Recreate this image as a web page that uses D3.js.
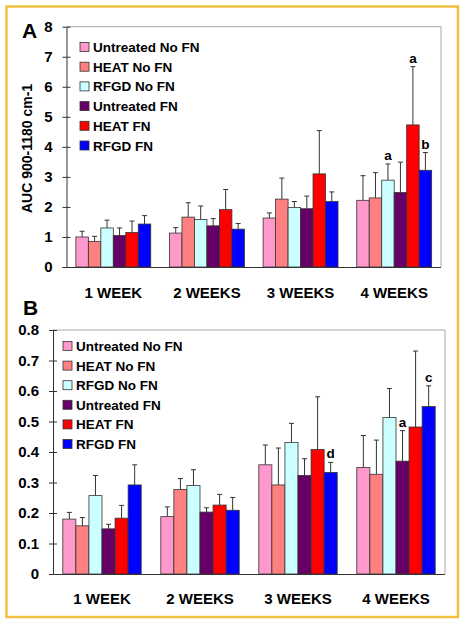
<!DOCTYPE html>
<html>
<head>
<meta charset="utf-8">
<script src="https://cdn.jsdelivr.net/npm/d3@7"></script>
<style>
  html, body { margin: 0; padding: 0; background: #ffffff; }
  svg { display: block; }
  text { font-family: "Liberation Sans", Arial, sans-serif; font-weight: bold; fill: #000; }
</style>
</head>
<body>
<svg id="chart" width="466" height="624"></svg>
<script>
// ---------- DATA ----------
const categories = ["1 WEEK", "2 WEEKS", "3 WEEKS", "4 WEEKS"];
const seriesNames = ["Untreated No FN", "HEAT No FN", "RFGD No FN", "Untreated FN", "HEAT FN", "RFGD FN"];
const seriesColors = ["#FF99CC", "#FF8080", "#CCFFFF", "#660066", "#FF0000", "#0000FF"];

// Panel A: AUC 900-1180 cm-1, rows = weeks, cols = series
const aucMeans = [
  [1.00, 0.85, 1.30, 1.05, 1.15, 1.43],
  [1.13, 1.66, 1.58, 1.37, 1.91, 1.26],
  [1.63, 2.26, 1.98, 1.94, 3.10, 2.18],
  [2.22, 2.30, 2.89, 2.48, 4.73, 3.22]
];
const aucErrors = [
  [0.19, 0.17, 0.26, 0.25, 0.38, 0.28],
  [0.18, 0.48, 0.45, 0.24, 0.67, 0.19],
  [0.17, 0.70, 0.20, 0.42, 1.44, 0.32],
  [0.82, 0.84, 0.54, 1.01, 1.94, 0.59]
];
const aucTicks = [0, 1, 2, 3, 4, 5, 6, 7, 8];
const aucMarks = [[3, 2, "a"], [3, 4, "a"], [3, 5, "b"]];

// Panel B
const bMeans = [
  [0.180, 0.158, 0.257, 0.148, 0.183, 0.292],
  [0.188, 0.277, 0.290, 0.203, 0.226, 0.209],
  [0.358, 0.292, 0.431, 0.323, 0.408, 0.333],
  [0.349, 0.327, 0.513, 0.370, 0.482, 0.549]
];
const bErrors = [
  [0.022, 0.027, 0.066, 0.015, 0.042, 0.066],
  [0.032, 0.036, 0.052, 0.014, 0.035, 0.042],
  [0.065, 0.121, 0.063, 0.055, 0.173, 0.033],
  [0.105, 0.112, 0.095, 0.100, 0.249, 0.068]
];
const bTicks = [0, 0.1, 0.2, 0.3, 0.4, 0.5, 0.6, 0.7, 0.8];
const bMarks = [[2, 5, "d"], [3, 3, "a"], [3, 5, "c"]];

// ---------- DRAW ----------
const svg = d3.select("#chart");

svg.append("rect")
  .attr("x", 6.5).attr("y", 6.5).attr("width", 451.5).attr("height", 610.5)
  .attr("fill", "none").attr("stroke", "#F0C040").attr("stroke-width", 2.5);

function drawPanel(cfg) {
  const g = svg.append("g");
  const x = d3.scaleBand().domain(categories).range([cfg.left, cfg.right]).paddingInner(0.2).paddingOuter(0.1);
  const xs = d3.scaleBand().domain(seriesNames).range([0, x.bandwidth()]);
  const y = d3.scaleLinear().domain([0, cfg.max]).range([cfg.bottom, cfg.top]);

  // frame (top & right)
  g.append("path")
    .attr("d", `M${cfg.left},${cfg.top}H${cfg.right}V${cfg.bottom}`)
    .attr("fill", "none").attr("stroke", "#A8A8A8").attr("stroke-width", 1);

  // bars
  const groups = g.selectAll("g.grp").data(cfg.means).join("g")
    .attr("transform", (d, i) => `translate(${x(categories[i])},0)`);
  groups.each(function (row, wi) {
    const gg = d3.select(this);
    row.forEach((v, si) => {
      const bx = xs(seriesNames[si]);
      const bw = xs.bandwidth();
      const top = y(v + cfg.errors[wi][si]);
      gg.append("line")
        .attr("x1", bx + bw / 2).attr("x2", bx + bw / 2)
        .attr("y1", y(v)).attr("y2", top)
        .attr("stroke", "#333").attr("stroke-width", 1);
      gg.append("line")
        .attr("x1", bx + bw / 2 - 2.5).attr("x2", bx + bw / 2 + 2.5)
        .attr("y1", top).attr("y2", top)
        .attr("stroke", "#333").attr("stroke-width", 1);
      gg.append("rect")
        .attr("x", bx).attr("y", y(v))
        .attr("width", bw).attr("height", y(0) - y(v))
        .attr("fill", seriesColors[si])
        .attr("stroke", "#333").attr("stroke-width", 0.8);
    });
  });

  // significance letters
  cfg.marks.forEach(([wi, si, lab]) => {
    const cx = x(categories[wi]) + xs(seriesNames[si]) + xs.bandwidth() / 2;
    const top = y(cfg.means[wi][si] + cfg.errors[wi][si]);
    g.append("text").attr("x", cx).attr("y", top - 4)
      .attr("text-anchor", "middle").attr("font-size", 13.5).text(lab);
  });

  // y axis
  const yAxis = d3.axisLeft(y).tickValues(cfg.ticks).tickSizeInner(4).tickSizeOuter(0).tickPadding(9)
    .tickFormat(cfg.fmt);
  const ya = g.append("g").attr("transform", `translate(${cfg.left},0)`).call(yAxis);
  ya.select(".domain").attr("stroke", "#333");
  ya.selectAll(".tick line").attr("x2", 4).attr("x1", -4).attr("stroke", "#333");
  ya.selectAll(".tick text").attr("font-size", 15).attr("font-family", "Liberation Sans, Arial, sans-serif")
    .attr("font-weight", "bold").attr("fill", "#000").attr("dx", -1);

  // x axis
  const xAxis = d3.axisBottom(x).tickSize(0).tickPadding(0);
  const xa = g.append("g").attr("transform", `translate(0,${cfg.bottom})`).call(xAxis);
  xa.select(".domain").attr("stroke", "#333").attr("d", `M${cfg.left - 4},0.5H${cfg.right}`);
  xa.selectAll(".tick text").attr("font-size", 15).attr("font-family", "Liberation Sans, Arial, sans-serif")
    .attr("font-weight", "bold").attr("fill", "#000").attr("dy", null).attr("y", cfg.catY - cfg.bottom);

  // legend
  const lg = g.append("g");
  seriesNames.forEach((name, i) => {
    const cy = cfg.legY + i * cfg.legStep;
    lg.append("rect").attr("x", cfg.legX).attr("y", cy - 4.5).attr("width", 9).attr("height", 9)
      .attr("fill", seriesColors[i]).attr("stroke", "#333").attr("stroke-width", 0.8);
    lg.append("text").attr("x", cfg.legX + 13).attr("y", cy + 5)
      .attr("font-size", 13.5).text(name);
  });

  // panel letter
  g.append("text").attr("x", cfg.letterX).attr("y", cfg.letterY)
    .attr("font-family", "Liberation Serif, Times New Roman, serif").attr("font-size", 21)
    .text(cfg.letter);
}

drawPanel({
  left: 66.5, right: 441, top: 26.7, bottom: 267, max: 8,
  means: aucMeans, errors: aucErrors, ticks: aucTicks, marks: aucMarks,
  fmt: d3.format("d"), catY: 297.5,
  legX: 80, legY: 47, legStep: 19.7,
  letter: "A", letterX: 22, letterY: 38
});

drawPanel({
  left: 53, right: 445, top: 330, bottom: 574, max: 0.8,
  means: bMeans, errors: bErrors, ticks: bTicks, marks: bMarks,
  fmt: d => d === 0 ? "0" : d3.format(".1f")(d), catY: 603.5,
  legX: 63, legY: 346, legStep: 19.6,
  letter: "B", letterX: 23, letterY: 315
});

// y axis title panel A
svg.append("text")
  .attr("transform", "translate(32,148.5) rotate(-90)")
  .attr("text-anchor", "middle").attr("font-size", 14)
  .text("AUC 900-1180 cm-1");
</script>
</body>
</html>
